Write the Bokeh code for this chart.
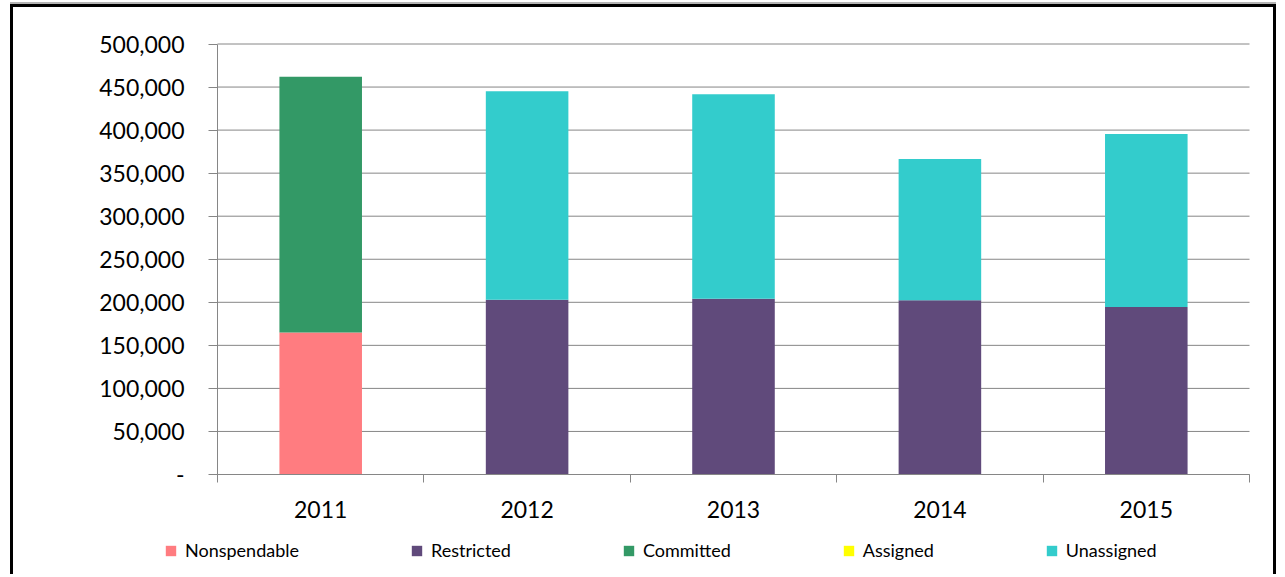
from bokeh.plotting import figure
from bokeh.models import (FixedTicker, NumeralTickFormatter, Legend, LegendItem,
                          Range1d, ColumnDataSource, LinearAxis)
from bokeh.embed import file_html
from bokeh.resources import INLINE

# ---- data ----
years = ["2011", "2012", "2013", "2014", "2015"]
nonspendable = [165000, 0, 0, 0, 0]
restricted = [0, 203000, 204000, 202500, 194500]
committed = [297000, 0, 0, 0, 0]
assigned = [0, 0, 0, 0, 0]
unassigned = [0, 242000, 237500, 164000, 201000]
series_names = ["Nonspendable", "Restricted", "Committed", "Assigned", "Unassigned"]
series_colors = ["#FF7C80", "#604A7B", "#339966", "#FFFF00", "#33CCCC"]
y_ticks = [0, 50000, 100000, 150000, 200000, 250000, 300000, 350000, 400000, 450000, 500000]

FONT = "Lato"
GRID = "#868686"

# ---- layout (pixels) ----
W, H = 1266, 570            # canvas size
PLOT_L, PLOT_R = 204, 1236  # plot area within canvas (x)
PLOT_T, PLOT_B = 36.5, 467  # plot area within canvas (y)

n = len(years)
ymax = y_ticks[-1]
px_x = (PLOT_R - PLOT_L) / n
px_y = (PLOT_B - PLOT_T) / ymax
x_range = Range1d(-PLOT_L / px_x, n + (W - PLOT_R) / px_x)
y_range = Range1d(-(H - PLOT_B) / px_y, ymax + PLOT_T / px_y)

xpos = [i + 0.5 for i in range(n)]
source = ColumnDataSource(dict(x=xpos, Nonspendable=nonspendable, Restricted=restricted,
                               Committed=committed, Assigned=assigned, Unassigned=unassigned))

p = figure(width=W, height=H, output_backend="svg", toolbar_location=None,
           x_range=x_range, y_range=y_range, x_axis_location=None, y_axis_location=None,
           min_border=0)
p.outline_line_color = None
p.background_fill_color = "white"
p.border_fill_color = "white"
p.grid.grid_line_color = None
p.styles = {"margin-left": "10px", "margin-top": "4px",
            "border-top": "3px solid black", "border-left": "3px solid black",
            "border-right": "3px solid black",
            "box-shadow": "0 -2px 0 0 #b4b4b4"}

# horizontal gridlines across the plot area
p.segment(x0=0, x1=n, y0=y_ticks, y1=y_ticks, line_color=GRID, line_width=1)

renderers = p.vbar_stack(series_names, x="x", width=0.4, source=source,
                         color=series_colors, line_color=None)

# y axis
yaxis = LinearAxis(fixed_location=0, bounds=(0, ymax))
yaxis.ticker = FixedTicker(ticks=y_ticks)
yaxis.formatter = NumeralTickFormatter(format="0,0")
yaxis.major_label_overrides = {0: "-"}
yaxis.axis_line_color = GRID
yaxis.major_tick_line_color = GRID
yaxis.major_tick_out = 9
yaxis.major_tick_in = 0
yaxis.minor_tick_line_color = None
yaxis.major_label_standoff = 24
yaxis.major_label_text_font = FONT
yaxis.major_label_text_font_size = "23px"
yaxis.major_label_text_color = "black"
p.add_layout(yaxis, "left")

# x axis
xaxis = LinearAxis(fixed_location=0, bounds=(0, n))
xaxis.ticker = FixedTicker(ticks=xpos, minor_ticks=list(range(n + 1)))
xaxis.major_label_overrides = {x: y for x, y in zip(xpos, years)}
xaxis.axis_line_color = GRID
xaxis.major_tick_line_color = None
xaxis.major_tick_out = 0
xaxis.major_tick_in = 0
xaxis.minor_tick_line_color = GRID
xaxis.minor_tick_out = 8
xaxis.minor_tick_in = 0
xaxis.major_label_standoff = 18
xaxis.major_label_text_font = FONT
xaxis.major_label_text_font_size = "23px"
xaxis.major_label_text_color = "black"
p.add_layout(xaxis, "below")

# legend
legend = Legend(items=[LegendItem(label=s, renderers=[r]) for s, r in zip(series_names, renderers)],
                location=(151, 16), orientation="horizontal", glyph_width=13, glyph_height=13,
                label_standoff=8, spacing=111, padding=0, margin=0,
                border_line_color=None, background_fill_alpha=0, label_text_font=FONT,
                label_text_font_size="18px", label_text_color="black")
p.add_layout(legend, "center")

open("out.html", "w").write(file_html(p, INLINE))
